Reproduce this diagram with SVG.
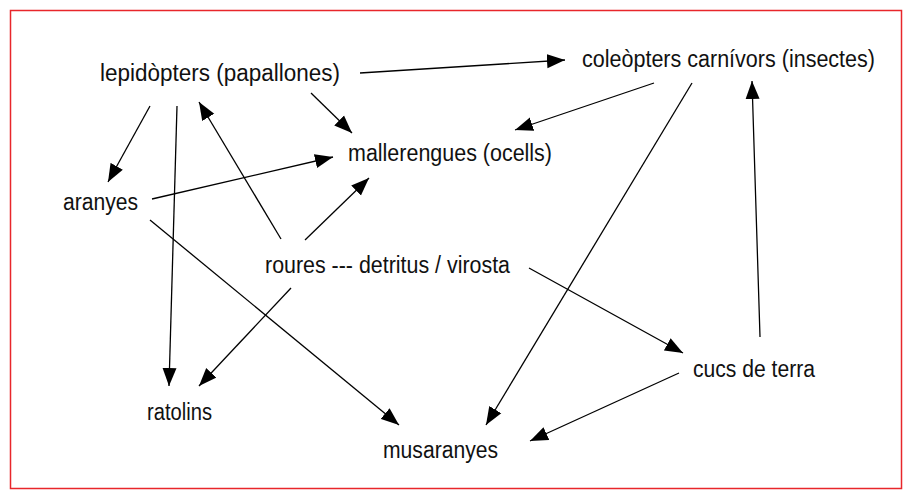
<svg xmlns="http://www.w3.org/2000/svg" width="903" height="491" viewBox="0 0 903 491">
<style>
text{font-family:"Liberation Sans",Arial,sans-serif;font-size:23px;fill:#111}
.c line{stroke:#000;stroke-width:1.3;marker-end:url(#ah)}
</style>
<defs>
<marker id="ah" markerUnits="userSpaceOnUse" markerWidth="19" markerHeight="15" refX="18" refY="7.5" orient="auto">
<path d="M0,0.5 L18,7.5 L0,14.5 z" fill="#000"/>
</marker>
</defs>
<rect width="903" height="491" fill="#fff"/>
<rect x="10.5" y="10.5" width="891" height="478" fill="none" stroke="#e8262b" stroke-width="1.5"/>
<g class="c" id="connectors">
<line x1="360" y1="73" x2="565" y2="60"/>
<line x1="311" y1="93" x2="352" y2="133"/>
<line x1="150" y1="106" x2="108" y2="182"/>
<line x1="177" y1="106" x2="169" y2="386"/>
<line x1="281" y1="239" x2="199" y2="102"/>
<line x1="152" y1="199" x2="333" y2="157"/>
<line x1="305" y1="240" x2="369" y2="178"/>
<line x1="654" y1="83" x2="515" y2="130"/>
<line x1="692" y1="83" x2="486" y2="425"/>
<line x1="760" y1="337" x2="752" y2="81"/>
<line x1="150" y1="220" x2="399" y2="425"/>
<line x1="291" y1="288" x2="199" y2="386"/>
<line x1="529" y1="268" x2="683" y2="353"/>
<line x1="679" y1="373" x2="530" y2="441"/>
</g>
<g id="lepidopters"><text x="100" y="81" textLength="240" lengthAdjust="spacingAndGlyphs">lepidòpters (papallones)</text></g>
<g id="coleopters"><text x="582" y="67" textLength="293" lengthAdjust="spacingAndGlyphs">coleòpters carnívors (insectes)</text></g>
<g id="mallerengues"><text x="348" y="161" textLength="204" lengthAdjust="spacingAndGlyphs">mallerengues (ocells)</text></g>
<g id="aranyes"><text x="63" y="210" textLength="75" lengthAdjust="spacingAndGlyphs">aranyes</text></g>
<g id="roures"><text x="265" y="273" textLength="245" lengthAdjust="spacingAndGlyphs">roures --- detritus / virosta</text></g>
<g id="cucs"><text x="693" y="377" textLength="122" lengthAdjust="spacingAndGlyphs">cucs de terra</text></g>
<g id="ratolins"><text x="147" y="420" textLength="65" lengthAdjust="spacingAndGlyphs">ratolins</text></g>
<g id="musaranyes"><text x="383" y="458" textLength="115" lengthAdjust="spacingAndGlyphs">musaranyes</text></g>
</svg>
